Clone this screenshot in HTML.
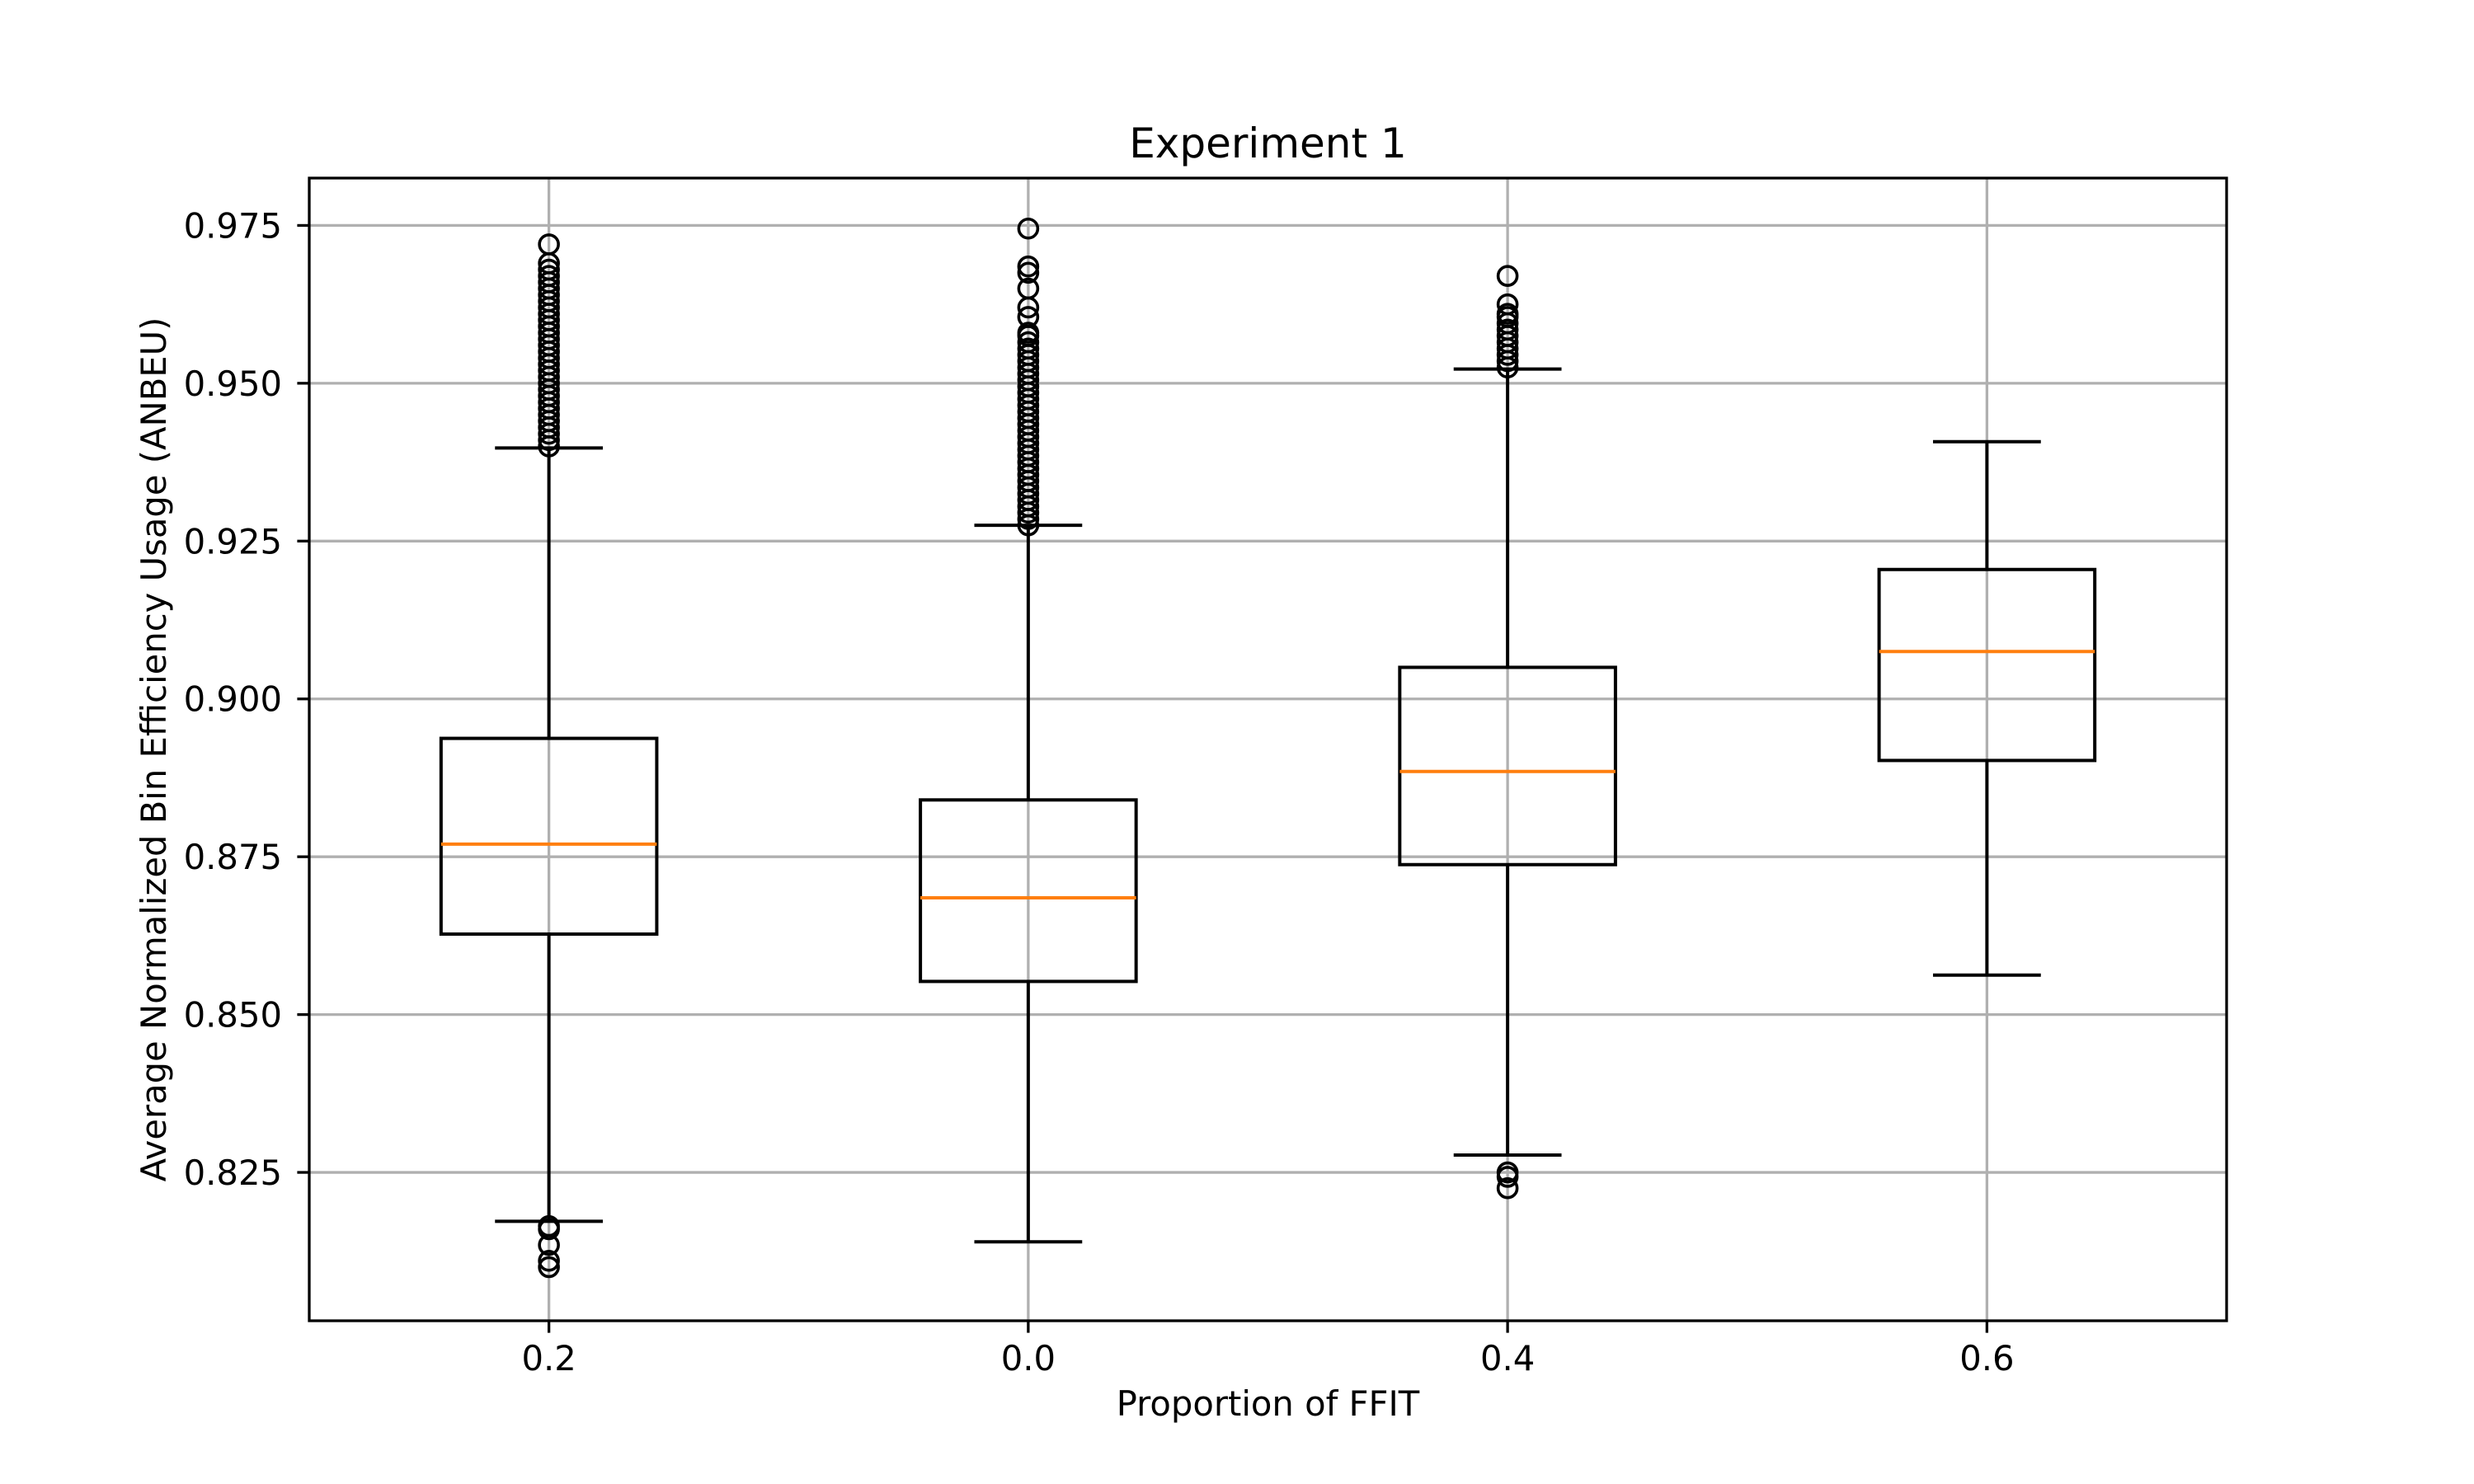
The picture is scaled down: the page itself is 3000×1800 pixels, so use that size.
<!DOCTYPE html>
<html><head><meta charset="utf-8"><style>
html,body{margin:0;padding:0;background:#fff;}
svg{display:block;}
text{font-family:"DejaVu Sans","Liberation Sans",sans-serif;fill:#000;}
</style></head><body>
<svg id="chart" width="3000" height="1800" viewBox="0 0 3000 1800" xmlns="http://www.w3.org/2000/svg">
<rect width="3000" height="1800" fill="#fff"/>
<g id="grid"></g>
<g id="boxes"></g>
<g id="axes"></g>
<text x="1537.5" y="191" text-anchor="middle" font-size="50">Experiment 1</text>
<text x="1537.5" y="1717" text-anchor="middle" font-size="41.7">Proportion of FFIT</text>
<text transform="translate(201,909) rotate(-90)" text-anchor="middle" font-size="41.7">Average Normalized Bin Efficiency Usage (ANBEU)</text>
</svg>
<script>
const categories = ["0.2", "0.0", "0.4", "0.6"];
const whiskerLow = [0.81725, 0.814, 0.82775, 0.85625];
const q1 = [0.86275, 0.85525, 0.87375, 0.89025];
const medians = [0.877, 0.8685, 0.8885, 0.9075];
const q3 = [0.89375, 0.884, 0.905, 0.9205];
const whiskerHigh = [0.93975, 0.9275, 0.95225, 0.94075];
const fliers0 = [0.8165,0.816,0.8135,0.811,0.810,
 0.940,0.941,0.942,0.943,0.944,0.945,0.946,0.947,0.948,0.949,0.950,0.951,0.952,0.953,0.954,0.955,0.956,0.957,0.958,0.959,0.960,0.961,0.962,0.963,0.964,0.965,0.966,0.967,0.968,0.969,0.972];
const fliers1 = [0.9275,0.9285,0.9295,0.9305,0.9315,0.9325,0.9335,0.9345,0.9355,0.9365,0.9375,0.9385,0.9395,0.9405,0.9415,0.9425,0.9435,0.9445,0.9455,0.9465,0.9475,0.9485,0.9495,0.9505,0.9515,0.9525,0.9535,0.9545,0.9555,0.9565,0.9575,0.958,0.9605,0.962,0.965,0.9675,0.9685,0.9745];
const fliers2 = [0.825,0.8243,0.8225,
 0.9525,0.9535,0.9545,0.9555,0.9565,0.9575,0.9585,0.9595,0.9605,0.961,0.9625,0.967];
const fliers3 = [];
const fliers = [fliers0, fliers1, fliers2, fliers3];
const yTicks = [0.825, 0.850, 0.875, 0.900, 0.925, 0.950, 0.975];
const yTickLabels = ["0.825","0.850","0.875","0.900","0.925","0.950","0.975"];

const L=375, R=2700, T=216, B=1602, yMin=0.8015, yMax=0.9825;
const NS="http://www.w3.org/2000/svg";
function xs(i){ return L + (i+0.5)*(R-L)/4; }
function ys(v){ return T + (yMax - v)/(yMax - yMin)*(B-T); }
const unit=(R-L)/4, boxW=0.45*unit, capW=0.225*unit;
function mk(tag, attrs, parent){ const e=document.createElementNS(NS,tag); for(const k in attrs) e.setAttribute(k,attrs[k]); parent.appendChild(e); return e; }
const grid=document.getElementById('grid'), boxes=document.getElementById('boxes'), axes=document.getElementById('axes');

yTicks.forEach((v,k)=>{
  const g=mk('line',{x1:L,x2:R,y1:ys(v),y2:ys(v),stroke:'#b0b0b0','stroke-width':3.3},grid);
  
  
  const t=mk('line',{x1:L-14.6,x2:L,y1:ys(v),y2:ys(v),stroke:'#000','stroke-width':3.3},axes);
  
  
  const tx=mk('text',{x:L-33,y:ys(v)+15,'text-anchor':'end','font-size':41.7},axes);
  tx.textContent=yTickLabels[k];
  
  
});
categories.forEach((c,i)=>{
  const x=xs(i);
  const g=mk('line',{x1:x,x2:x,y1:T,y2:B,stroke:'#b0b0b0','stroke-width':3.3},grid);
  
  
  const t=mk('line',{x1:x,x2:x,y1:B,y2:B+14.6,stroke:'#000','stroke-width':3.3},axes);
  
  
  const tx=mk('text',{x:x,y:B+60,'text-anchor':'middle','font-size':41.7},axes);
  tx.textContent=c;
  
  

  const grp=mk('g',{},boxes);
  
  
  const st={stroke:'#000','stroke-width':4,fill:'none'};
  const w1=mk('line',Object.assign({x1:x,x2:x,y1:ys(q1[i]),y2:ys(whiskerLow[i])},st),grp);
  
  
  const w2=mk('line',Object.assign({x1:x,x2:x,y1:ys(q3[i]),y2:ys(whiskerHigh[i])},st),grp);
  
  
  const c1=mk('line',Object.assign({x1:x-capW/2,x2:x+capW/2,y1:ys(whiskerLow[i]),y2:ys(whiskerLow[i])},st),grp);
  
  
  const c2=mk('line',Object.assign({x1:x-capW/2,x2:x+capW/2,y1:ys(whiskerHigh[i]),y2:ys(whiskerHigh[i])},st),grp);
  
  
  const r=mk('rect',Object.assign({x:x-boxW/2,y:ys(q3[i]),width:boxW,height:ys(q1[i])-ys(q3[i])},st),grp);
  
  
  const m=mk('line',{x1:x-boxW/2,x2:x+boxW/2,y1:ys(medians[i]),y2:ys(medians[i]),stroke:'#ff7f0e','stroke-width':4},grp);
  
  
  fliers[i].forEach(v=>{
    const f=mk('circle',{cx:x,cy:ys(v),r:11.5,stroke:'#000','stroke-width':3.6,fill:'none'},grp);
    
    
  });
});
const fr=mk('rect',{x:L,y:T,width:R-L,height:B-T,fill:'none',stroke:'#000','stroke-width':3.3},axes);


</script>
</body></html>
